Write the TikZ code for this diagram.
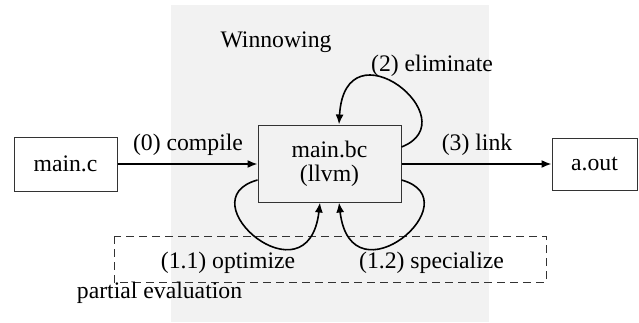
\documentclass[tikz,border=0pt]{standalone}
\usepackage{fontspec}
\setmainfont{Liberation Serif}
\usetikzlibrary{arrows.meta}
\begin{document}
\begin{tikzpicture}[x=1pt,y=-1pt,
  font=\fontsize{23.7}{24}\selectfont,
  box/.style={draw=black!80, line width=1pt, inner sep=0pt, align=center},
  arr/.style={line width=1.6pt, -{Latex[length=10pt,width=8pt]}},
  lbl/.style={anchor=base, inner sep=0pt}]
\useasboundingbox (0,0) rectangle (639,322);
\fill[black!5] (171,5) rectangle (489,322);
\node[box, minimum width=103pt, minimum height=54pt] (mc) at (65.5,164) {main.c};
\node[box, fill=black!5, minimum width=143pt, minimum height=77pt] (bc) at (329.5,163.5) {main.bc\\(llvm)};
\node[box, minimum width=85pt, minimum height=52pt] (ao) at (594.5,164) {a.out};
\draw[dashed, dash pattern=on 8pt off 5pt, line width=0.9pt, draw=black!80] (114,236) rectangle (546,282);
\draw[arr] (mc.east) -- (bc.west |- mc.east);
\draw[arr] (bc.east |- ao.west) -- (ao.west);
\draw[arr] (bc.east |- 0,147) .. controls (470,120) and (345,20) .. (bc.north -| 339,0);
\draw[arr] (bc.west |- 0,180) .. controls (185,200) and (308,305) .. (bc.south -| 320,0);
\draw[arr] (bc.east |- 0,180) .. controls (474,200) and (351,305) .. (bc.south -| 339,0);
\node[lbl] (win) at (276,47) {Winnowing};
\node[lbl] (comp) at (188,150) {(0) compile};
\node[lbl] (link) at (477,150) {(3) link};
\node[lbl] (elim) at (432,71) {(2) eliminate};
\node[lbl] (opt) at (228,268) {(1.1) optimize};
\node[lbl] (spec) at (431.5,268) {(1.2) specialize};
\node[lbl] (pe) at (159.5,298) {partial evaluation};
\end{tikzpicture}
\end{document}
